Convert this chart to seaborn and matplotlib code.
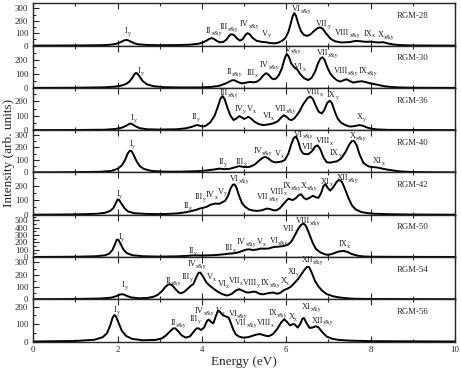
import numpy as np
import pandas as pd
import matplotlib
matplotlib.use("Agg")
import matplotlib.pyplot as plt
from matplotlib.ticker import MultipleLocator
import seaborn as sns

# Dados: energia (eV) e intensidade (u.a.) de cada amostra
amostras = ["RGM-28", "RGM-30", "RGM-36", "RGM-40", "RGM-42", "RGM-50", "RGM-54", "RGM-56"]

e_rgm28 = [0, 1.0, 1.6, 1.8, 1.95, 2.05, 2.12, 2.18, 2.22, 2.26, 2.32, 2.4, 2.5, 2.7, 3.0, 3.4, 3.7, 3.9, 4.0,
           4.1, 4.18, 4.23, 4.28, 4.35, 4.42, 4.5, 4.58, 4.65, 4.7, 4.76, 4.83, 4.9, 4.97, 5.03, 5.08, 5.13, 5.2,
           5.3, 5.42, 5.52, 5.62, 5.72, 5.82, 5.9, 5.98, 6.05, 6.1, 6.15, 6.19, 6.23, 6.28, 6.35, 6.42, 6.5, 6.58,
           6.66, 6.74, 6.8, 6.84, 6.88, 6.95, 7.05, 7.15, 7.3, 7.5, 7.65, 7.75, 7.9, 8.0, 8.1, 8.2, 8.3, 8.4, 8.55,
           8.7, 9.0, 10]
i_rgm28 = [0, 1, 3, 6, 13, 24, 36, 44, 45, 41, 31, 18, 10, 5, 3, 4, 7, 14, 22,
           38, 55, 60, 55, 38, 27, 28, 48, 80, 92, 85, 58, 40, 52, 85, 100, 92, 62,
           38, 30, 27, 20, 18, 25, 38, 62, 110, 170, 235, 262, 240, 180, 115, 85, 78, 92,
           118, 140, 146, 142, 128, 95, 55, 35, 25, 28, 38, 35, 30, 32, 27, 25, 27, 18, 8,
           4, 1, 0]

e_rgm30 = [0, 1.0, 1.7, 1.95, 2.1, 2.2, 2.28, 2.35, 2.4, 2.44, 2.48, 2.53, 2.6, 2.7, 2.85, 3.1, 3.5, 3.9, 4.2,
           4.4, 4.55, 4.65, 4.72, 4.78, 4.85, 4.95, 5.05, 5.14, 5.22, 5.3, 5.38, 5.45, 5.52, 5.58, 5.65, 5.7,
           5.76, 5.83, 5.9, 5.96, 6.01, 6.06, 6.12, 6.2, 6.26, 6.33, 6.42, 6.52, 6.6, 6.68, 6.75, 6.81, 6.86,
           6.91, 6.97, 7.04, 7.11, 7.2, 7.28, 7.36, 7.43, 7.5, 7.59, 7.68, 7.79, 7.9, 8.0, 8.14, 8.3, 8.46, 8.7,
           9.0, 10]
i_rgm30 = [0, 1, 4, 9, 17, 28, 45, 72, 98, 108, 100, 78, 48, 25, 12, 5, 3, 3, 6,
           14, 30, 45, 55, 54, 42, 32, 38, 43, 40, 44, 62, 88, 106, 95, 70, 62,
           68, 95, 145, 210, 245, 225, 175, 145, 132, 100, 70, 56, 72, 115, 175, 212, 221,
           200, 150, 105, 78, 55, 45, 55, 62, 50, 38, 44, 48, 40, 32, 24, 13, 7, 3,
           1, 0]

e_rgm36 = [0, 1.0, 1.7, 1.95, 2.1, 2.2, 2.27, 2.3, 2.34, 2.42, 2.52, 2.7, 3.0, 3.4, 3.6, 3.75, 3.85, 3.9, 3.96,
           4.03, 4.1, 4.2, 4.3, 4.38, 4.44, 4.49, 4.54, 4.6, 4.67, 4.75, 4.82, 4.89, 4.95, 5.0, 5.05, 5.1, 5.16,
           5.25, 5.35, 5.46, 5.58, 5.7, 5.8, 5.88, 5.94, 6.0, 6.07, 6.13, 6.2, 6.3, 6.4, 6.5, 6.57, 6.63, 6.7,
           6.77, 6.84, 6.9, 6.97, 7.03, 7.08, 7.15, 7.22, 7.3, 7.4, 7.51, 7.62, 7.72, 7.8, 7.9, 8.0, 8.15, 8.4,
           9.0, 10]
i_rgm36 = [0, 1, 3, 8, 17, 30, 42, 46, 43, 28, 14, 6, 4, 6, 12, 22, 33, 35, 30,
           25, 32, 55, 100, 165, 220, 238, 215, 160, 105, 70, 82, 98, 88, 78, 85, 93, 82,
           58, 42, 35, 40, 48, 62, 88, 104, 95, 75, 70, 85, 125, 180, 222, 235, 218, 170,
           128, 116, 140, 190, 205, 190, 130, 80, 52, 35, 25, 28, 35, 32, 20, 11, 5, 2,
           1, 0]

e_rgm40 = [0, 1.0, 1.6, 1.85, 2.0, 2.1, 2.18, 2.24, 2.29, 2.33, 2.38, 2.45, 2.52, 2.62, 2.8, 3.1, 3.5, 3.9, 4.1,
           4.3, 4.42, 4.52, 4.65, 4.8, 4.88, 4.96, 5.06, 5.14, 5.25, 5.36, 5.45, 5.5, 5.56, 5.65, 5.73, 5.82,
           5.9, 5.97, 6.05, 6.12, 6.18, 6.23, 6.28, 6.34, 6.4, 6.46, 6.52, 6.6, 6.68, 6.74, 6.8, 6.88, 6.96,
           7.05, 7.13, 7.2, 7.3, 7.4, 7.5, 7.56, 7.61, 7.67, 7.74, 7.83, 7.95, 8.05, 8.14, 8.25, 8.4, 8.54, 8.7,
           9.0, 9.5, 10]
i_rgm40 = [0, 2, 5, 12, 28, 55, 100, 150, 172, 170, 140, 90, 52, 28, 12, 6, 6, 10, 15,
           24, 30, 26, 28, 42, 50, 45, 42, 45, 62, 95, 118, 123, 115, 90, 80, 82,
           88, 100, 150, 225, 275, 285, 250, 180, 150, 145, 145, 165, 205, 215, 190, 120, 80,
           78, 84, 88, 110, 160, 225, 250, 248, 215, 140, 75, 48, 42, 40, 32, 22, 15, 8,
           3, 1, 0]

e_rgm42 = [0, 1.0, 1.5, 1.7, 1.82, 1.9, 1.96, 2.0, 2.04, 2.1, 2.17, 2.25, 2.4, 2.7, 3.0, 3.25, 3.45, 3.6, 3.72,
           3.85, 3.95, 4.04, 4.12, 4.2, 4.31, 4.42, 4.5, 4.55, 4.62, 4.68, 4.73, 4.77, 4.82, 4.88, 4.95, 5.02,
           5.12, 5.22, 5.32, 5.42, 5.54, 5.62, 5.7, 5.77, 5.85, 5.93, 6.0, 6.05, 6.1, 6.15, 6.22, 6.3, 6.35,
           6.42, 6.47, 6.55, 6.63, 6.7, 6.76, 6.82, 6.88, 6.93, 6.98, 7.04, 7.12, 7.2, 7.26, 7.32, 7.4, 7.48,
           7.56, 7.65, 7.78, 7.92, 8.1, 8.5, 9.0, 10]
i_rgm42 = [0, 2, 6, 13, 25, 45, 80, 104, 100, 72, 42, 22, 10, 5, 4, 6, 10, 16, 23,
           32, 42, 48, 55, 68, 76, 75, 88, 95, 130, 180, 205, 208, 185, 130, 80, 55,
           35, 28, 26, 30, 42, 38, 30, 30, 45, 72, 95, 110, 105, 100, 112, 135, 140,
           115, 105, 115, 130, 120, 115, 145, 195, 210, 185, 165, 190, 228, 238, 225, 170, 110,
           62, 35, 18, 11, 6, 3, 1, 0]

e_rgm50 = [0, 1.0, 1.5, 1.7, 1.8, 1.88, 1.94, 1.98, 2.02, 2.08, 2.14, 2.22, 2.35, 2.6, 3.0, 3.4, 3.65, 3.8, 3.9,
           4.05, 4.3, 4.5, 4.65, 4.75, 4.85, 4.95, 5.05, 5.12, 5.2, 5.3, 5.4, 5.48, 5.58, 5.7, 5.82, 5.95, 6.05,
           6.12, 6.2, 6.28, 6.35, 6.41, 6.47, 6.54, 6.62, 6.7, 6.8, 6.9, 6.96, 7.05, 7.15, 7.25, 7.35, 7.45,
           7.55, 7.7, 7.85, 8.1, 9.0, 10]
i_rgm50 = [0, 3, 10, 22, 45, 95, 175, 235, 232, 170, 100, 52, 24, 10, 5, 8, 15, 22, 20,
           20, 25, 35, 45, 50, 60, 80, 100, 104, 95, 100, 115, 112, 115, 135, 140, 150, 170,
           210, 290, 380, 435, 455, 420, 320, 200, 110, 65, 40, 30, 35, 55, 75, 82, 68,
           40, 16, 6, 3, 1, 0]

e_rgm54 = [0, 1.0, 1.6, 1.85, 1.97, 2.05, 2.1, 2.15, 2.22, 2.32, 2.5, 2.7, 2.85, 2.95, 3.05, 3.13, 3.2, 3.25,
           3.3, 3.38, 3.45, 3.5, 3.58, 3.66, 3.74, 3.8, 3.86, 3.92, 3.96, 4.02, 4.1, 4.18, 4.28, 4.38, 4.48,
           4.59, 4.7, 4.8, 4.88, 4.95, 5.05, 5.12, 5.22, 5.28, 5.36, 5.45, 5.55, 5.68, 5.78, 5.85, 5.95, 6.02,
           6.1, 6.2, 6.28, 6.35, 6.43, 6.5, 6.54, 6.6, 6.68, 6.76, 6.85, 6.96, 7.1, 7.25, 7.4, 7.6, 8.0, 10]
i_rgm54 = [0, 2, 6, 13, 25, 37, 41, 38, 27, 15, 8, 10, 20, 35, 65, 100, 120, 122,
           112, 80, 55, 48, 60, 85, 110, 125, 175, 215, 218, 190, 140, 112, 85, 60, 42,
           30, 42, 70, 82, 72, 56, 55, 62, 60, 45, 40, 48, 55, 45, 50, 75, 85,
           100, 135, 165, 200, 240, 265, 262, 220, 150, 105, 70, 42, 25, 15, 9, 4, 2, 0]

e_rgm56 = [0, 1.0, 1.45, 1.65, 1.75, 1.83, 1.88, 1.92, 1.96, 2.02, 2.1, 2.2, 2.35, 2.6, 2.9, 3.05, 3.15, 3.25,
           3.32, 3.37, 3.44, 3.52, 3.62, 3.72, 3.8, 3.87, 3.92, 3.98, 4.05, 4.12, 4.16, 4.22, 4.27, 4.33, 4.38,
           4.43, 4.5, 4.58, 4.63, 4.68, 4.74, 4.8, 4.88, 4.98, 5.1, 5.2, 5.3, 5.38, 5.48, 5.58, 5.68, 5.78,
           5.88, 5.95, 6.02, 6.09, 6.15, 6.2, 6.27, 6.33, 6.38, 6.42, 6.47, 6.55, 6.62, 6.7, 6.76, 6.85, 6.96,
           7.1, 7.25, 7.5, 8.0, 10]
i_rgm56 = [0, 3, 10, 25, 48, 95, 135, 152, 145, 110, 62, 32, 15, 7, 9, 18, 35, 60,
           75, 76, 58, 35, 22, 30, 55, 75, 76, 66, 80, 118, 126, 112, 104, 145, 178,
           170, 150, 143, 138, 110, 70, 42, 28, 22, 25, 33, 40, 43, 35, 30, 42, 70,
           110, 128, 112, 92, 100, 98, 80, 100, 130, 135, 110, 78, 80, 88, 82, 55, 28,
           15, 9, 5, 2, 0]

# Rótulos das transições: (numeral, índice, energia, intensidade)
lab_rgm28 = [("I", "y", 2.17, 100), ("II", "x&y", 4.10, 103), ("III", "x&y", 4.43, 136),
             ("IV", "x&y", 4.90, 158), ("V", "y", 5.42, 81), ("VI", "x&y", 6.13, 281),
             ("VII", "y", 6.71, 158), ("VIII", "x&y", 7.16, 86), ("IX", "x", 7.83, 81),
             ("X", "x&y", 8.18, 67)]
lab_rgm30 = [("I", "y", 2.48, 109), ("II", "x&y", 4.59, 100), ("III", "x", 5.05, 95),
             ("IV", "x&y", 5.38, 150), ("V", "x&y", 5.97, 262), ("VI", "x", 6.18, 138),
             ("VII", "x&y", 6.72, 238), ("VIII", "x&y", 7.12, 107), ("IX", "x&y", 7.71, 107)]
lab_rgm36 = [("I", "y", 2.32, 70), ("II", "y", 3.76, 76), ("III", "x&y", 4.41, 245),
             ("IV", "y", 4.77, 133), ("V", "x", 5.06, 133), ("VI", "x", 5.44, 86),
             ("VII", "x&y", 5.73, 134), ("VIII", "x", 6.47, 249), ("IX", "y", 6.96, 233),
             ("X", "y", 7.67, 77)]
lab_rgm40 = [("I", "y", 2.28, 208), ("II", "y", 4.39, 67), ("III", "x", 4.80, 67),
             ("IV", "x&y", 5.22, 156), ("V", "x", 5.73, 131), ("VI", "x&y", 6.18, 285),
             ("VII", "y", 6.37, 190), ("VIII", "x", 6.70, 233), ("IX", "y", 7.04, 136),
             ("X", "x&y", 7.51, 272), ("XI", "x", 8.06, 72)]
lab_rgm42 = [("I", "y", 1.97, 129), ("II", "x", 3.56, 47), ("III", "y", 3.82, 106),
             ("IV", "x", 4.09, 122), ("V", "y", 4.39, 145), ("VI", "x&y", 4.67, 230),
             ("VII", "x&y", 5.31, 106), ("VIII", "x", 5.60, 145), ("IX", "x&y", 5.91, 183),
             ("X", "x&y", 6.35, 183), ("XI", "x", 6.82, 211), ("XII", "x&y", 7.20, 239)]
lab_rgm50 = [("I", "y", 2.02, 239), ("II", "y", 3.68, 58), ("III", "x", 4.55, 90),
             ("IV", "x&y", 4.83, 180), ("V", "x", 5.31, 171), ("VI", "x&y", 5.60, 194),
             ("VII", "x", 5.93, 351), ("VIII", "x&y", 6.23, 464), ("IX", "x", 7.24, 149)]
lab_rgm54 = [("I", "y", 2.10, 101), ("II", "x&y", 3.13, 136), ("III", "y", 3.52, 164),
             ("IV", "x&y", 3.66, 273), ("V", "x", 4.11, 164), ("VI", "x", 4.37, 109),
             ("VII", "x", 4.63, 136), ("VIII", "y", 4.97, 117), ("IX", "x&y", 5.40, 117),
             ("X", "x", 5.86, 136), ("XI", "y", 6.03, 205), ("XII", "x&y", 6.37, 300)]
lab_rgm56 = [("I", "y", 1.92, 171), ("II", "x&y", 3.25, 96), ("III", "y", 3.72, 119),
             ("IV", "x&y", 3.84, 166), ("V", "x", 4.34, 166), ("VI", "x&y", 4.63, 147),
             ("VII", "x&y", 4.79, 96), ("VIII", "x", 5.30, 96), ("IX", "x&y", 5.58, 153),
             ("X", "x", 6.05, 128), ("XI", "x&y", 6.37, 185), ("XII", "x&y", 6.60, 109)]

energias = [e_rgm28, e_rgm30, e_rgm36, e_rgm40, e_rgm42, e_rgm50, e_rgm54, e_rgm56]
intensidades = [i_rgm28, i_rgm30, i_rgm36, i_rgm40, i_rgm42, i_rgm50, i_rgm54, i_rgm56]
rotulos = [lab_rgm28, lab_rgm30, lab_rgm36, lab_rgm40, lab_rgm42, lab_rgm50, lab_rgm54, lab_rgm56]

# Limites do eixo y e maior valor rotulado de cada painel
y_max = [340, 305, 295, 336, 290, 575, 345, 243]
y_tick_max = [300, 200, 200, 300, 200, 500, 300, 200]

sns.set_style("ticks")
plt.rcParams["font.family"] = ["Liberation Serif", "DejaVu Serif"]

fig, axes = plt.subplots(8, 1, figsize=(4.61, 3.68), dpi=100, sharex=True)
fig.subplots_adjust(left=0.072, right=0.987, top=0.991, bottom=0.072, hspace=0)
renderer = fig.canvas.get_renderer()

for k, ax in enumerate(axes):
    df = pd.DataFrame({"E": energias[k], "I": intensidades[k]})
    sns.lineplot(data=df, x="E", y="I", ax=ax, color="black", linewidth=1.4, sort=False)

    # numeral romano e, logo à direita, o índice menor e rebaixado
    for num, sub, ex, iy in rotulos[k]:
        t = ax.text(ex, iy, num, fontsize=6.0, ha="left", va="baseline", color="#222222")
        larg = t.get_window_extent(renderer).width * 72 / fig.dpi
        ax.annotate(sub, xy=(ex, iy), xytext=(larg, -1.4), textcoords="offset points",
                    fontsize=4.2, ha="left", va="baseline", color="#222222")

    ax.text(0.9, 0.7, amostras[k], transform=ax.transAxes, fontsize=6.3, ha="center", va="center")

    ax.set_xlim(0, 10)
    ax.set_ylim(0, y_max[k])
    ax.set_yticks(np.arange(0, y_tick_max[k] + 1, 100))
    ax.yaxis.set_minor_locator(MultipleLocator(50))
    ax.xaxis.set_major_locator(MultipleLocator(2))
    ax.xaxis.set_minor_locator(MultipleLocator(1))
    ax.tick_params(which="both", direction="in", top=True, right=False, labelsize=6.3, width=0.8)
    ax.tick_params(which="major", length=4)
    ax.tick_params(which="minor", length=2)
    ax.set_xlabel("")
    ax.set_ylabel("")
    for sp in ax.spines.values():
        sp.set_visible(True)
        sp.set_linewidth(1.0)

axes[-1].set_xlabel("Energy (eV)", fontsize=9.5, labelpad=1)
fig.text(0.02, 0.585, "Intensity (arb. units)", rotation=90, ha="center", va="center", fontsize=9.5)

plt.savefig("out.png", dpi=100)
